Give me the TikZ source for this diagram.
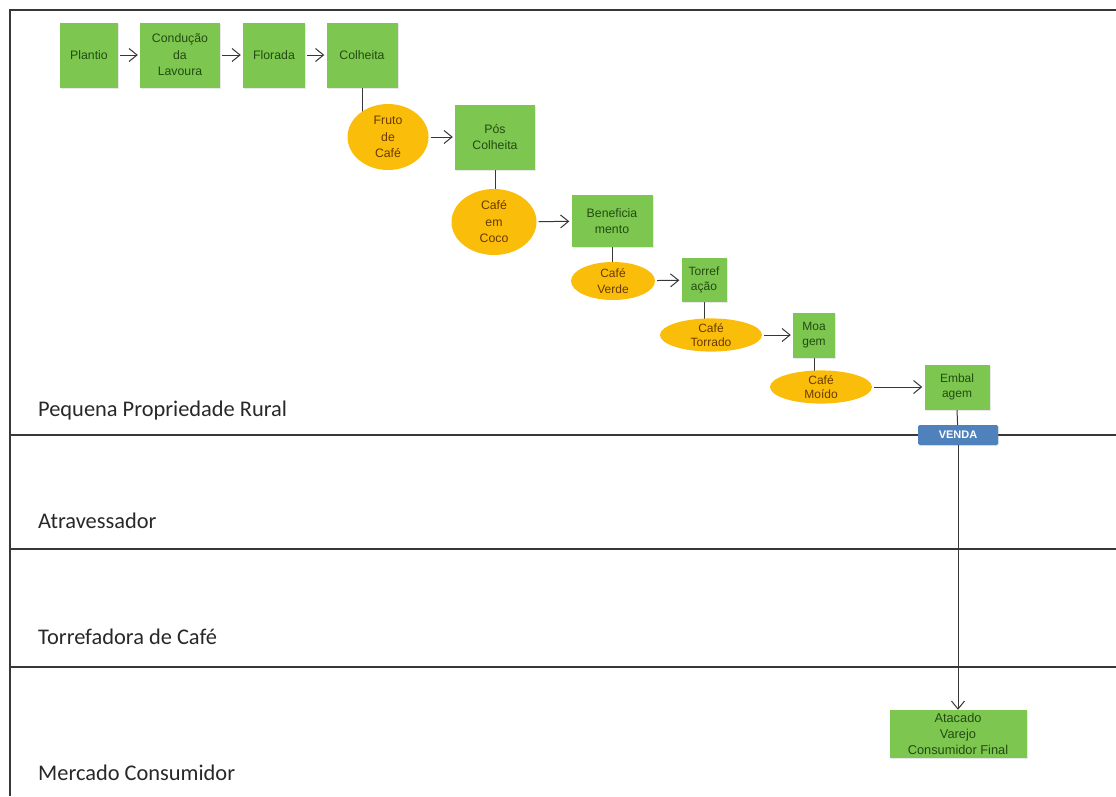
\documentclass[tikz,border=0pt]{standalone}
\usepackage{fontspec}
\setmainfont{Liberation Sans}
\newfontfamily\lanefont{Carlito}
\usetikzlibrary{arrows.meta,shadows,backgrounds,calc,shapes.geometric}
\definecolor{boxgreen}{RGB}{125,199,80}
\definecolor{boxtext}{RGB}{35,75,18}
\definecolor{ellorange}{RGB}{250,190,10}
\definecolor{elltext}{RGB}{105,58,0}
\definecolor{vendablue}{RGB}{79,129,189}
\definecolor{lanetext}{RGB}{40,40,40}
\definecolor{linegray}{RGB}{55,55,55}
\tikzset{
  stepbox/.style={rectangle, fill=boxgreen, text=boxtext, align=center, inner sep=0pt,
    font=\fontsize{12.3}{16.5}\selectfont,
    drop shadow={opacity=0.18, shadow xshift=1.2pt, shadow yshift=-1.2pt}},
  prodell/.style={ellipse, fill=ellorange, text=elltext, align=center, inner sep=0pt,
    font=\fontsize{12.3}{16.5}\selectfont},
  lanelabel/.style={anchor=base west, text=lanetext, font=\lanefont\fontsize{22.4}{25}\selectfont, inner sep=0pt},
  flow/.style={draw=linegray, line width=1pt, shorten <=2pt, shorten >=2pt,
    -{Straight Barb[length=8pt,width=13pt,line width=1pt]}},
  link/.style={draw=linegray, line width=1pt},
  lane/.style={draw=linegray, line width=1.1pt}
}
\begin{document}
\begin{tikzpicture}[x=1pt,y=-1pt]
\useasboundingbox (0,0) rectangle (1116,796);
% frame and lanes
\coordinate (fTL) at (10,10);
\coordinate (fTR) at (1116,10);
\coordinate (fBL) at (10,796);
\coordinate (l1L) at (10,435); \coordinate (l1R) at (1116,435);
\coordinate (l2L) at (10,549); \coordinate (l2R) at (1116,549);
\coordinate (l3L) at (10,667); \coordinate (l3R) at (1116,667);
\draw[lane] (fTR) -- (fTL) -- (fBL);
\draw[lane] (l1L) -- (l1R);
\draw[lane] (l2L) -- (l2R);
\draw[lane] (l3L) -- (l3R);
% lane labels
\node[lanelabel] (lab1) at (38,416) {Pequena Propriedade Rural};
\node[lanelabel] (lab2) at (38,528) {Atravessador};
\node[lanelabel] (lab3) at (38,644) {Torrefadora de Café};
\node[lanelabel] (lab4) at (38,780) {Mercado Consumidor};
% process boxes
\node[stepbox, minimum width=58, minimum height=65] (plantio) at (89,55) {Plantio};
\node[stepbox, minimum width=80, minimum height=65] (conducao) at (180,55) {Condução\\da\\Lavoura};
\node[stepbox, minimum width=62, minimum height=65] (florada) at (274,55) {Florada};
\node[stepbox, minimum width=71, minimum height=65] (colheita) at (362,55) {Colheita};
\node[prodell, minimum width=81, minimum height=66] (fruto) at (388,137) {Fruto\\de\\Café};
\node[stepbox, minimum width=80, minimum height=65] (pos) at (495,137) {Pós\\Colheita};
\node[prodell, minimum width=85, minimum height=66] (coco) at (494,222) {Café\\em\\Coco};
\node[stepbox, minimum width=81, minimum height=52] (benef) at (612,221) {Beneficia\\mento};
\node[prodell, minimum width=84, minimum height=38, font=\fontsize{12}{15.5}\selectfont] (verde) at (613,281) {Café\\Verde};
\node[stepbox, minimum width=45, minimum height=44, font=\fontsize{12}{15.5}\selectfont] (torref) at (704,280) {Torref\\ação};
\node[prodell, minimum width=102, minimum height=31, font=\fontsize{12}{14.5}\selectfont] (torrado) at (711,335) {Café\\Torrado};
\node[stepbox, minimum width=42, minimum height=45, font=\fontsize{12}{15.5}\selectfont] (moagem) at (814,335) {Moa\\gem};
\node[prodell, minimum width=102, minimum height=31, font=\fontsize{12}{14.5}\selectfont] (moido) at (821,387) {Café\\Moído};
\node[stepbox, minimum width=65, minimum height=45, font=\fontsize{12}{15.5}\selectfont] (embal) at (957,387) {Embal\\agem};
\node[rectangle, rounded corners=1.5pt, fill=vendablue, text=white, minimum width=80, minimum height=20, inner sep=0pt,
  font=\bfseries\fontsize{11}{12}\selectfont,
  drop shadow={opacity=0.18, shadow xshift=1pt, shadow yshift=-1pt}] (venda) at (958,435) {VENDA};
\node[stepbox, minimum width=137, minimum height=48, font=\fontsize{12.8}{15.7}\selectfont] (atacado) at (958,734) {Atacado\\Varejo\\Consumidor Final};
% connectors
\draw[flow] (plantio) -- (conducao);
\draw[flow] (conducao) -- (florada);
\draw[flow] (florada) -- (colheita);
\draw[flow] (fruto) -- (pos);
\draw[flow] (coco) -- (benef);
\draw[flow] (verde) -- (torref);
\draw[flow] (torrado) -- (moagem);
\draw[flow] (moido) -- (embal);
\begin{scope}[on background layer]
\draw[link] (colheita.south) -- (colheita.south |- fruto.center);
\draw[link] (pos.south) -- (pos.south |- coco.center);
\draw[link] (benef.south) -- (benef.south |- verde.center);
\draw[link] (torref.south) -- (torref.south |- torrado.center);
\draw[link] (moagem.south) -- (moagem.south |- moido.center);
\draw[link] (embal.south) -- (venda.center);
\end{scope}
\draw[flow, shorten <=0pt, shorten >=0pt] (venda.south) -- (atacado.north);
\end{tikzpicture}
\end{document}
